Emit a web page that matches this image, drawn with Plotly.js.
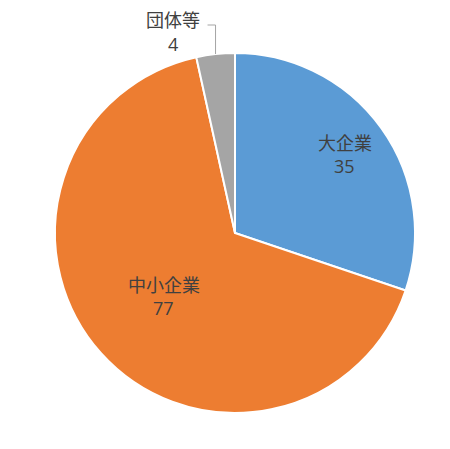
<!DOCTYPE html>
<html>
<head>
<meta charset="utf-8">
<script src="https://cdn.plot.ly/plotly-3.0.1.min.js"></script>
<style>
  html, body { margin: 0; padding: 0; background: #fff; }
  #chart { width: 450px; height: 449px; }
</style>
</head>
<body>
<div id="chart"></div>
<script>
const categories = ["大企業", "中小企業", "団体等"];
const counts = [35, 77, 4];
const colors = ["#5B9BD5", "#ED7D31", "#A5A5A5"];

const W = 450, H = 449;
const dom = {x: [55 / W, 415 / W], y: [(H - 413) / H, (H - 53) / H]};
const labelFont = {family: "Open Sans, Noto Sans CJK JP, sans-serif", size: 18, color: "#404040"};
const lineGap = 23;

// geometry of the pie in pixels, to put labels on each slice's bisector
const total = counts.reduce((a, b) => a + b, 0);
const cx = (dom.x[0] + dom.x[1]) / 2 * W;
const cy = (1 - (dom.y[0] + dom.y[1]) / 2) * H;
const R = (dom.x[1] - dom.x[0]) * W / 2;
const radial = [0.75, 0.53, 1.0];

let acc = 0;
const mids = counts.map(v => {
    const m = (acc + v / 2) / total * 2 * Math.PI;
    acc += v;
    return m;
});
const pt = (i, f) => [cx + f * R * Math.sin(mids[i]), cy - f * R * Math.cos(mids[i])];

// two annotations per slice: category on top, count below
const twoLines = (i, x, y) => [
    {text: categories[i], dy: -lineGap / 2},
    {text: String(counts[i]), dy: lineGap / 2}
].map(l => ({
    xref: "paper", yref: "paper",
    x: x / W, y: 1 - (y + l.dy) / H,
    xanchor: "center", yanchor: "middle",
    text: l.text, showarrow: false, font: labelFont
}));

let annotations = [];
[0, 1].forEach(i => {
    const [x, y] = pt(i, radial[i]);
    annotations = annotations.concat(twoLines(i, x, y));
});

// small slice: outside label with an elbow leader line
const [px, py] = pt(2, radial[2]);
const bendY = 25, endX = px - 8;
annotations = annotations.concat(twoLines(2, 173, 32));

const data = [{
    type: "pie",
    labels: categories,
    values: counts,
    sort: false,
    direction: "clockwise",
    rotation: 0,
    domain: dom,
    marker: {colors: colors, line: {color: "#FFFFFF", width: 2}},
    textinfo: "none",
    hoverinfo: "label+value",
    showlegend: false
}];

const layout = {
    width: W,
    height: H,
    margin: {l: 0, r: 0, t: 0, b: 0},
    paper_bgcolor: "#FFFFFF",
    showlegend: false,
    shapes: [{
        type: "path",
        xref: "paper", yref: "paper",
        path: `M ${px / W} ${1 - py / H} L ${px / W} ${1 - bendY / H} L ${endX / W} ${1 - bendY / H}`,
        line: {color: "#A5A5A5", width: 1}
    }],
    annotations: annotations
};

Plotly.newPlot("chart", data, layout, {displayModeBar: false, staticPlot: true});
</script>
</body>
</html>
